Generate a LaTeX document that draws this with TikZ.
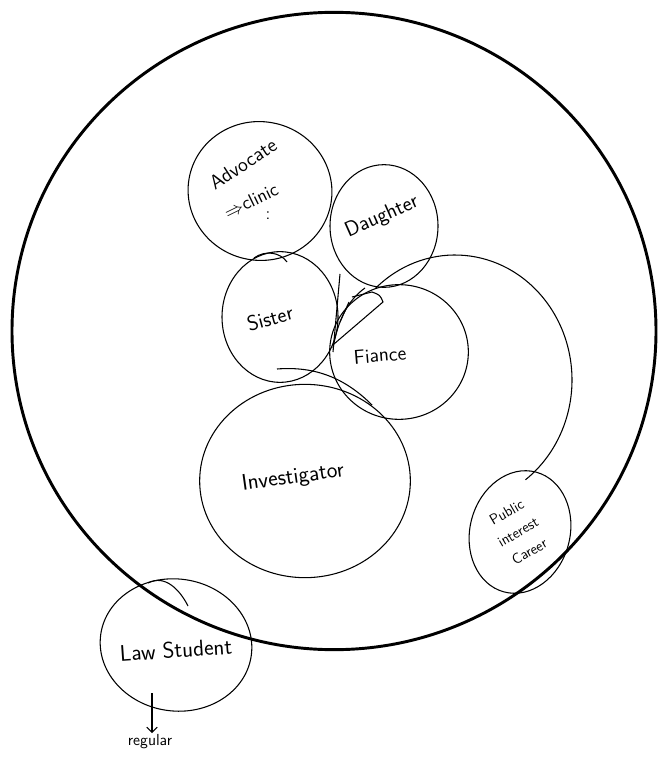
\documentclass[tikz,border=0pt]{standalone}
\usepackage{tikz}
\usetikzlibrary{calc,shapes.geometric,arrows.meta}

\begin{document}
\begin{tikzpicture}[x=0.75pt,y=-0.75pt,
    bubble/.style={draw, ellipse, inner sep=0pt, line width=0.8pt},
    word/.style={font=\sffamily, align=center, inner sep=1pt}]
  \useasboundingbox (0,0) rectangle (660,766);

  % the outer world
  \node[bubble, line width=2.2pt, minimum width=483pt, minimum height=478pt] (world) at (334,331) {};

  % roles inside
  \node[bubble, minimum width=108pt, minimum height=104pt, rotate=-10] (advocate) at (260,191) {};
  \node[bubble, minimum width=81pt, minimum height=92pt] (daughter) at (384,226) {};
  \node[bubble, minimum width=87pt, minimum height=98pt] (sister) at (280,317) {};
  \node[bubble, minimum width=104pt, minimum height=101pt] (fiance) at (399,352) {};
  \node[bubble, minimum width=158pt, minimum height=145pt] (investigator) at (305,481) {};
  \node[bubble, minimum width=75pt, minimum height=93pt, rotate=-15] (public) at (520,532) {};
  \node[bubble, minimum width=114pt, minimum height=99pt, rotate=-8] (law) at (176,645) {};

  % long loop from daughter round to the career
  \coordinate (loopc) at (455,380);
  \draw[line width=0.8pt] ($(loopc)+(133:87.75pt and 93.75pt)$)
    arc[start angle=133, end angle=-53, x radius=87.75pt, y radius=93.75pt];

  % stray strokes
  \draw[line width=0.8pt] (340,274) -- (333,352);
  \draw[line width=0.8pt] (333,348) .. controls (338,320) and (348,300) .. (365,288);
  \draw[line width=0.8pt] (334,344) -- (383,302) .. controls (380,295) .. (372,292) -- (352,297);
  \draw[line width=0.8pt] (340,322) -- (349,302);
  \draw[line width=0.8pt] (277,369) .. controls (315,366) and (345,378) .. (372,405);
  \draw[line width=0.8pt] (148,583) .. controls (165,574) and (180,590) .. (188,606);
  \draw[line width=0.8pt] (254,258) .. controls (265,250) and (280,252) .. (287,262);

  % labels
  \node[word, font=\sffamily\fontsize{15}{16}\selectfont, rotate=33] (advtext) at (243,164) {Advocate};
  \node[word, font=\sffamily\fontsize{14}{15}\selectfont, rotate=26] (clinic) at (251,201) {$\Rightarrow$clinic};
  \node[word, font=\sffamily\fontsize{13}{14}\selectfont] (dots) at (268,216) {:};
  \node[word, font=\sffamily\fontsize{16}{17}\selectfont, rotate=24] (dtext) at (382,217) {Daughter};
  \node[word, font=\sffamily\fontsize{16}{17}\selectfont, rotate=15] (stext) at (270,318) {Sister};
  \node[word, font=\sffamily\fontsize{15}{16}\selectfont, rotate=5] (ftext) at (380,355) {Fiance};
  \node[word, font=\sffamily\fontsize{17}{18}\selectfont, rotate=8] (itext) at (293,478) {Investigator};
  \node[word, font=\sffamily\fontsize{11}{17}\selectfont, rotate=30] (ptext) at (518,532) {Public\\interest\\Career};
  \node[word, font=\sffamily\fontsize{17}{18}\selectfont, rotate=4] (ltext) at (176,650) {Law Student};
  \node[word, font=\sffamily\fontsize{12}{13}\selectfont] (regular) at (150,742) {regular};

  \coordinate (tail) at (152,693);
  \draw[line width=0.8pt, -{Straight Barb[length=4pt]}] (tail) -- (tail |- regular.north);
\end{tikzpicture}
\end{document}
